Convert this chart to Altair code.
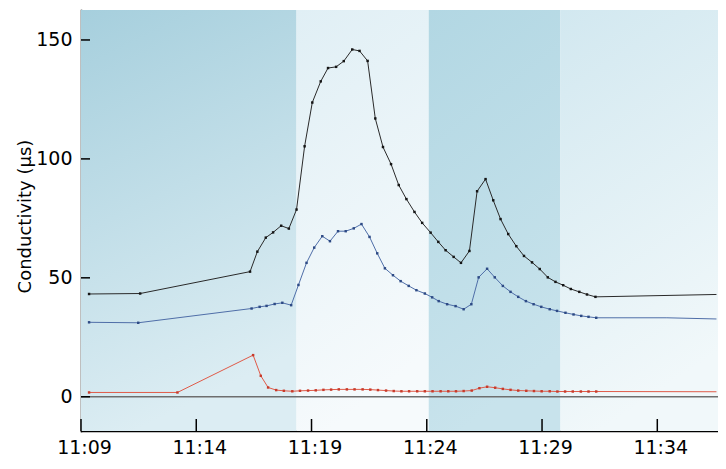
import altair as alt
import pandas as pd

DAY = "2020-01-01T"

# ---- series data ----
black_times = ["11:09:21", "11:11:34", "11:16:20", "11:16:39", "11:17:01", "11:17:20", "11:17:41",
               "11:18:01", "11:18:21", "11:18:42", "11:19:02", "11:19:24", "11:19:43", "11:20:04",
               "11:20:24", "11:20:46", "11:21:05", "11:21:26", "11:21:46", "11:22:06", "11:22:27",
               "11:22:47", "11:23:07", "11:23:28", "11:23:48", "11:24:10", "11:24:30", "11:24:49",
               "11:25:10", "11:25:29", "11:25:51", "11:26:11", "11:26:33", "11:26:53", "11:27:12",
               "11:27:32", "11:27:53", "11:28:13", "11:28:34", "11:28:54", "11:29:15", "11:29:35",
               "11:29:55", "11:30:15", "11:30:37", "11:30:57", "11:31:19", "11:36:34"]
black_values = [43.2, 43.4, 52.6, 61.0, 66.9, 69.1, 71.9,
                70.7, 78.7, 105.3, 123.7, 132.6, 138.2, 138.7,
                141.1, 146.0, 145.4, 141.2, 117.0, 105.0, 97.8,
                89.0, 83.1, 77.7, 73.1, 69.0, 65.1, 61.6,
                58.8, 56.3, 61.3, 86.4, 91.5, 82.6, 74.7,
                68.4, 63.3, 59.2, 56.5, 53.7, 50.2, 48.3,
                46.9, 45.3, 44.1, 43.0, 42.0, 43.0]

blue_times = ["11:09:21", "11:11:29", "11:16:24", "11:16:45", "11:17:03", "11:17:24", "11:17:44",
              "11:18:07", "11:18:26", "11:18:47", "11:19:07", "11:19:28", "11:19:48", "11:20:09",
              "11:20:29", "11:20:50", "11:21:10", "11:21:31", "11:21:51", "11:22:11", "11:22:32",
              "11:22:52", "11:23:13", "11:23:33", "11:23:55", "11:24:14", "11:24:31", "11:24:53",
              "11:25:15", "11:25:36", "11:25:56", "11:26:15", "11:26:37", "11:26:57", "11:27:18",
              "11:27:38", "11:27:58", "11:28:18", "11:28:38", "11:28:58", "11:29:20", "11:29:39",
              "11:30:01", "11:30:22", "11:30:42", "11:31:01", "11:31:21", "11:34:25", "11:36:34"]
blue_values = [31.3, 31.1, 37.1, 37.8, 38.2, 39.0, 39.5,
               38.5, 47.0, 56.3, 62.7, 67.5, 65.4, 69.6,
               69.6, 70.8, 72.6, 67.2, 60.3, 54.0, 51.1,
               48.6, 46.6, 44.8, 43.4, 41.8, 40.2, 38.9,
               38.1, 36.8, 38.9, 50.2, 53.8, 50.2, 46.6,
               44.1, 42.0, 40.2, 38.9, 37.8, 36.8, 36.1,
               35.3, 34.6, 34.0, 33.6, 33.2, 33.2, 32.7]

red_times = ["11:09:21", "11:13:11", "11:16:28", "11:16:48", "11:17:07", "11:17:28", "11:17:48",
             "11:18:10", "11:18:30", "11:18:51", "11:19:11", "11:19:31", "11:19:51", "11:20:11",
             "11:20:32", "11:20:52", "11:21:13", "11:21:33", "11:21:53", "11:22:14", "11:22:34",
             "11:22:54", "11:23:14", "11:23:35", "11:23:55", "11:24:15", "11:24:36", "11:24:56",
             "11:25:16", "11:25:36", "11:25:57", "11:26:17", "11:26:37", "11:26:58", "11:27:18",
             "11:27:38", "11:27:58", "11:28:19", "11:28:39", "11:28:59", "11:29:20", "11:29:40",
             "11:30:00", "11:30:20", "11:30:41", "11:31:01", "11:31:21", "11:36:34"]
red_values = [1.8, 1.8, 17.5, 8.8, 3.9, 2.8, 2.5,
              2.3, 2.5, 2.6, 2.7, 2.9, 3.0, 3.1,
              3.1, 3.1, 3.1, 3.0, 2.8, 2.6, 2.4,
              2.3, 2.3, 2.3, 2.3, 2.3, 2.3, 2.3,
              2.3, 2.4, 2.6, 3.6, 4.2, 3.8, 3.3,
              2.9, 2.6, 2.5, 2.4, 2.3, 2.3, 2.2,
              2.2, 2.2, 2.2, 2.2, 2.2, 2.1]

# values drawn only as line vertices, without a marker
unmarked = {"black": ["11:36:34"], "blue": ["11:34:25", "11:36:34"], "red": ["11:36:34"]}

# ---- background bands ----
band_start = ["11:09:00", "11:18:21", "11:24:05", "11:29:48"]
band_end = ["11:18:21", "11:24:05", "11:29:48", "11:36:38"]
band_top = ["#a6cfdd", "#e0eff5", "#b2d7e3", "#d2e8f0"]
band_bottom = ["#dcedf3", "#f6fafc", "#c8e3ec", "#f1f8fa"]

# ---- axes ----
x_ticks = ["11:09", "11:14", "11:19", "11:24", "11:29", "11:34"]
y_ticks = [0, 50, 100, 150]
x_domain = ["11:09:00", "11:36:38"]
y_domain = [-14.4, 162.6]
y_title = "Conductivity (µs)"

W, H = 637, 421
FONT = "DejaVu Sans"

rows = []
for name, ts, vs in (("black", black_times, black_values),
                     ("blue", blue_times, blue_values),
                     ("red", red_times, red_values)):
    for t, v in zip(ts, vs):
        rows.append({"t": DAY + t, "v": v, "s": name, "m": 0 if t in unmarked[name] else 1})
df = pd.DataFrame(rows)
df_pts = df[df["m"] == 1]

bands = pd.DataFrame({"start": [DAY + s for s in band_start],
                      "end": [DAY + e for e in band_end],
                      "i": list(range(len(band_start)))})

xt = pd.DataFrame({"t": [DAY + t + ":00" for t in x_ticks]})
yt = pd.DataFrame({"v": y_ticks})


def dt(s):
    h, m, sec = (int(p) for p in s.split(":"))
    return alt.DateTime(year=2020, month=1, date=1, hours=h, minutes=m, seconds=sec)


xscale = alt.Scale(domain=[dt(x_domain[0]), dt(x_domain[1])], nice=False)
yscale = alt.Scale(domain=y_domain, nice=False, zero=False)

xaxis = alt.Axis(values=[dt(t + ":00") for t in x_ticks], format="%H:%M", tickSize=0,
                 labelPadding=7, labelFontSize=19, labelFont=FONT, labelColor="#000",
                 labelOffset=3,
                 domainColor="#000", domainWidth=1.5, grid=False, title=None,
                 labelFlush=False)
yaxis = alt.Axis(values=y_ticks, tickSize=0, labelPadding=9, labelFontSize=19,
                 labelFont=FONT, labelColor="#000", domainColor="#000", domainWidth=1.5,
                 grid=False, title=y_title, titleFont=FONT, titleFontSize=18,
                 titleFontWeight="normal", titleColor="#000", titleX=-56, titleY=206,
                 titleBaseline="middle", titleAngle=270)

band_layers = []
for i in range(len(band_start)):
    grad = alt.Gradient(gradient="linear",
                        stops=[alt.GradientStop(color=band_top[i], offset=0),
                               alt.GradientStop(color=band_bottom[i], offset=1)],
                        x1=0, y1=0, x2=0.25, y2=1)
    band_layers.append(
        alt.Chart(bands).transform_filter(alt.datum.i == i).mark_rect(strokeWidth=0).encode(
            x=alt.X("start:T", scale=xscale, axis=xaxis),
            x2="end:T",
            y=alt.value(0), y2=alt.value(H),
            color=alt.value(grad),
        )
    )

zero = alt.Chart(pd.DataFrame({"v": [0]})).mark_rule(color="#6e6e6e", strokeWidth=1.5).encode(
    y=alt.Y("v:Q", scale=yscale, axis=yaxis)
)

line_scale = alt.Scale(domain=["black", "blue", "red"], range=["#2a2a2a", "#4f6ea8", "#e05a48"])
point_scale = alt.Scale(domain=["black", "blue", "red"], range=["#151515", "#2d4a85", "#c83a2a"])

lines = alt.Chart(df).mark_line(strokeWidth=1, clip=True).encode(
    x=alt.X("t:T", scale=xscale, axis=xaxis),
    y=alt.Y("v:Q", scale=yscale, axis=yaxis),
    color=alt.Color("s:N", scale=line_scale, legend=None),
    detail="s:N",
)
pts = alt.Chart(df_pts).mark_square(size=6, opacity=1, filled=True, clip=True).encode(
    x=alt.X("t:T", scale=xscale, axis=xaxis),
    y=alt.Y("v:Q", scale=yscale, axis=yaxis),
    fill=alt.Fill("s:N", scale=point_scale, legend=None),
)

xtick_layer = alt.Chart(xt).mark_rule(color="#000", strokeWidth=1.5).encode(
    x=alt.X("t:T", scale=xscale, axis=xaxis), y=alt.value(H - 12), y2=alt.value(H)
)
ytick_layer = alt.Chart(yt).mark_rule(color="#000", strokeWidth=1.5).encode(
    y=alt.Y("v:Q", scale=yscale, axis=yaxis), x=alt.value(0), x2=alt.value(9)
)

chart = alt.layer(*band_layers, zero, lines, pts, xtick_layer, ytick_layer).properties(
    width=W, height=H,
    autosize=alt.AutoSizeParams(type="none"),
    padding={"left": 73, "top": 2, "right": 0, "bottom": 30},
).resolve_scale(color="independent").configure_view(stroke=None).configure_axis(domainCap="square")

chart.save("out.html", embed_options={"renderer": "svg", "actions": False})
